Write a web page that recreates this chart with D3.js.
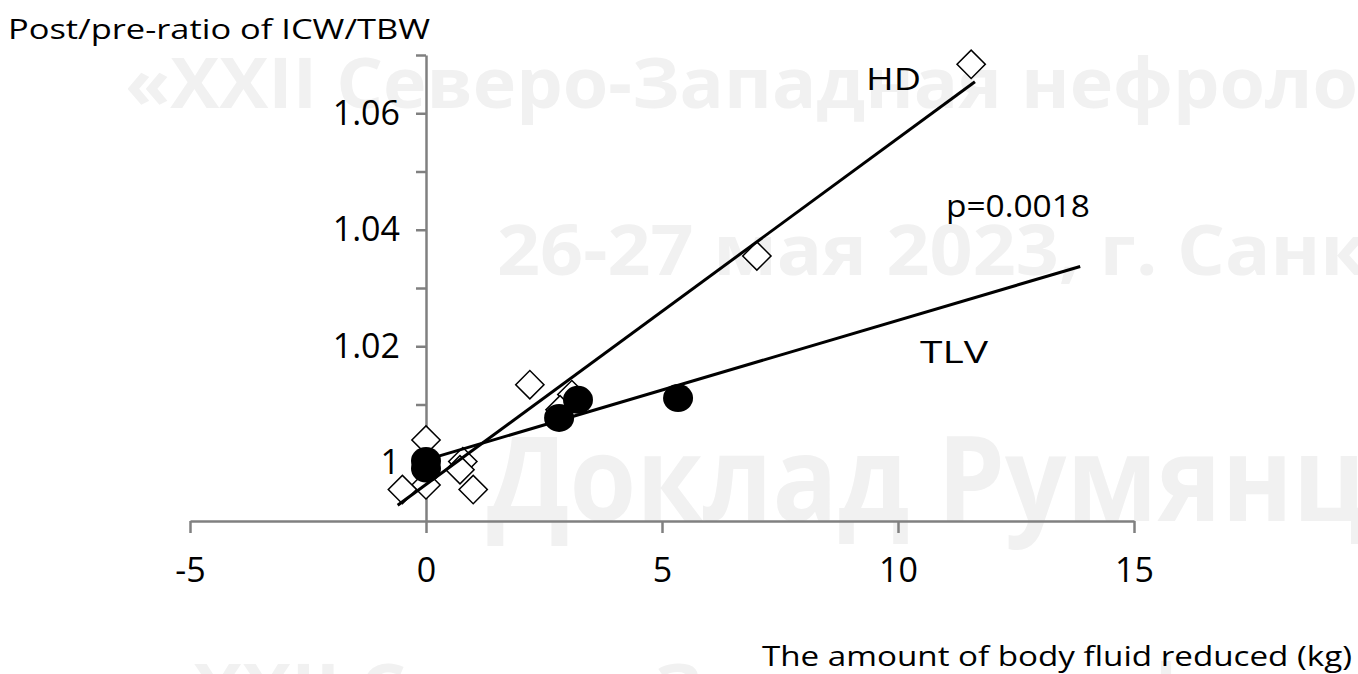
<!DOCTYPE html>
<html>
<head>
<meta charset="utf-8">
<script src="https://cdn.jsdelivr.net/npm/d3@7"></script>
<style>
	html, body { margin: 0; padding: 0; background: #fff; overflow: hidden; }
	svg text { font-family: "Open Sans", "Noto Sans", sans-serif; }
	.axis path, .axis line { stroke: #808080; stroke-width: 2.5; }
	.axis text { fill: #000; font-size: 34px; }
	.mark { fill: #f1f1f1; font-weight: 700; }
</style>
</head>
<body>
<svg id="chart" width="1358" height="674"></svg>
<script>

// HD patients (open diamonds)
var hdX = [11.55, 7.01, 2.2, 3.09, 2.84, 0.0, 0.0, -0.5, 0.78, 0.72, 1.0];
var hdY = [1.0684, 1.0355, 1.0134, 1.0117, 1.0091, 1.0039, 0.9962, 0.9954, 1.0002, 0.9988, 0.9954];

// TLV patients (filled circles)
var tlvX = [0.0, 0.0, 2.82, 3.22, 5.34];
var tlvY = [1.0003, 0.9990, 1.0077, 1.0108, 1.0111];

// regression lines, end points
var hdLineX = [-0.6, 11.63];
var hdLineY = [0.9927, 1.0654];
var tlvLineX = [0.0, 13.86];
var tlvLineY = [1.0005, 1.0337];

// ticks
var xTicks = [-5, 0, 5, 10, 15];
var xTickLabels = ['-5', '0', '5', '10', '15'];
var yTicks = [1.00, 1.01, 1.02, 1.03, 1.04, 1.05, 1.06, 1.07];
var yTickLabels = ['1', '', '1.02', '', '1.04', '', '1.06', ''];

// watermark lines
var markText = [
	'\u00ABXXII \u0421\u0435\u0432\u0435\u0440\u043E-\u0417\u0430\u043F\u0430\u0434\u043D\u0430\u044F \u043D\u0435\u0444\u0440\u043E\u043B\u043E',
	'26-27 \u043C\u0430\u044F 2023, \u0433. \u0421\u0430\u043D\u043A',
	'\u0414\u043E\u043A\u043B\u0430\u0434 \u0420\u0443\u043C\u044F\u043D\u0446',
	'\u00ABXXII \u0421\u0435\u0432\u0435\u0440\u043E-\u0417\u0430\u043F\u0430\u0434\u043D\u0430\u044F \u043D\u0435\u0444\u0440\u043E\u043B\u043E'
];

var svg = d3.select('#chart');

var x = d3.scaleLinear().domain([-5, 15]).range([190, 1134]);
var y = d3.scaleLinear().domain([0.99, 1.07]).range([521, 55]);

// faint watermark behind everything
var markPos = [
	{x: 125, y: 108, size: 70, len: 1233},
	{x: 497, y: 275, size: 70, len: 870},
	{x: 487, y: 521, size: 118, len: 880},
	{x: 148, y: 714, size: 70, len: 1233}
];
svg.selectAll('text.mark')
	.data(markText)
	.enter()
	.append('text')
	.attr('class', 'mark')
	.attr('x', function(d, i){ return markPos[i].x; })
	.attr('y', function(d, i){ return markPos[i].y; })
	.attr('font-size', function(d, i){ return markPos[i].size; })
	.attr('textLength', function(d, i){ return markPos[i].len; })
	.attr('lengthAdjust', 'spacingAndGlyphs')
	.text(function(d){ return d; });

// axes
var xAxis = d3.axisBottom(x)
	.tickValues(xTicks)
	.tickFormat(function(d, i){ return xTickLabels[i]; })
	.tickSize(12)
	.tickSizeOuter(0)
	.tickPadding(25);
svg.append('g')
	.attr('class', 'axis')
	.attr('transform', 'translate(0,' + y(0.99) + ')')
	.call(xAxis);

var yAxis = d3.axisLeft(y)
	.tickValues(yTicks)
	.tickFormat(function(d, i){ return yTickLabels[i]; })
	.tickSize(10)
	.tickSizeOuter(0)
	.tickPadding(16);
svg.append('g')
	.attr('class', 'axis')
	.attr('transform', 'translate(' + x(0) + ',0)')
	.call(yAxis);

// hd diamonds
var diamond = d3.symbol().type(d3.symbolSquare).size(400);
svg.selectAll('path.hd')
	.data(hdX)
	.enter()
	.append('path')
	.attr('class', 'hd')
	.attr('d', diamond)
	.attr('transform', function(d, i){
		return 'translate(' + x(d) + ',' + y(hdY[i]) + ') rotate(45)';
	})
	.attr('fill', '#fff')
	.attr('stroke', '#000')
	.attr('stroke-width', 1.5);

// regression lines
var line = d3.line()
	.x(function(d){ return x(d[0]); })
	.y(function(d){ return y(d[1]); });
svg.append('path')
	.attr('d', line(d3.zip(hdLineX, hdLineY)))
	.attr('stroke', '#000')
	.attr('stroke-width', 3)
	.attr('fill', 'none');
svg.append('path')
	.attr('d', line(d3.zip(tlvLineX, tlvLineY)))
	.attr('stroke', '#000')
	.attr('stroke-width', 3)
	.attr('fill', 'none');

// tlv circles
svg.selectAll('ellipse.tlv')
	.data(tlvX)
	.enter()
	.append('ellipse')
	.attr('class', 'tlv')
	.attr('cx', function(d){ return x(d); })
	.attr('cy', function(d, i){ return y(tlvY[i]); })
	.attr('rx', 15)
	.attr('ry', 14)
	.attr('fill', '#000');

// titles and labels
function label(txt, px, py, size, len, anchor){
	var t = svg.append('text')
		.attr('x', px)
		.attr('y', py)
		.attr('font-size', size)
		.attr('fill', '#000')
		.attr('text-anchor', anchor || 'start')
		.text(txt);
	if (len){
		t.attr('textLength', len).attr('lengthAdjust', 'spacingAndGlyphs');
	}
	return t;
}
label('Post/pre-ratio of ICW/TBW', 8, 39, 28, 422);
label('The amount of body fluid reduced (kg)', 762, 666, 28, 590);
label('HD', 866, 90, 31, 55);
label('p=0.0018', 946, 217, 31, 144);
label('TLV', 920, 363, 31, 68);

</script>
</body>
</html>
